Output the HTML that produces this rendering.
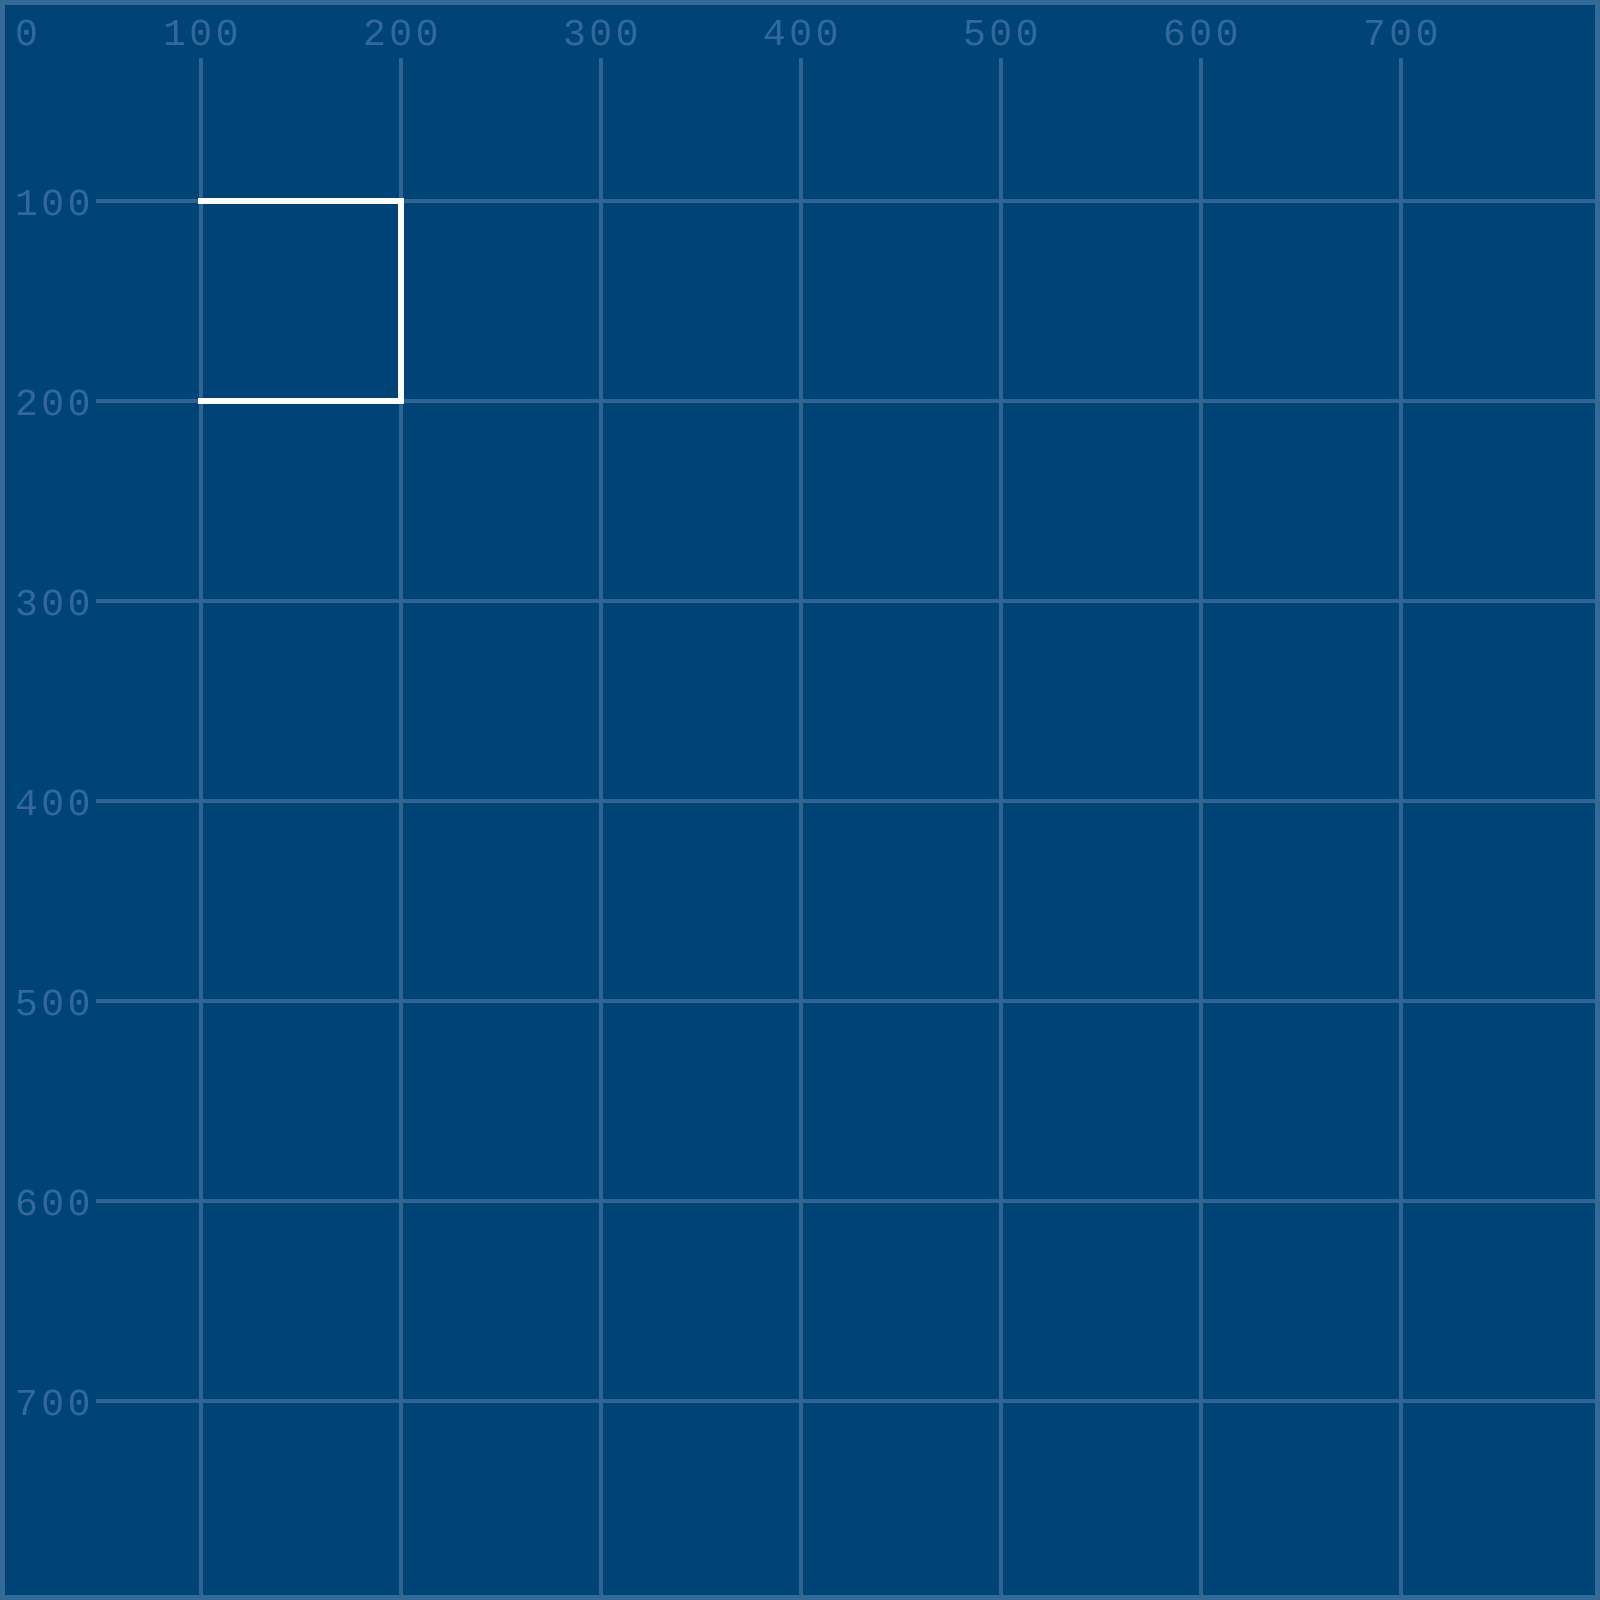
<!DOCTYPE html>
<html><head><meta charset="utf-8"><style>
html,body{margin:0;padding:0;background:#004477;}
svg{display:block}
text{font-family:"Liberation Mono",monospace;font-size:38px;letter-spacing:3.5px;fill:#32689a;}
</style></head><body>
<svg id="c" width="1600" height="1600" xmlns="http://www.w3.org/2000/svg">
<rect x="0" y="0" width="1600" height="1600" fill="#004477"/>
<g id="grid"></g>
<g id="labels"></g>
<path id="shape" fill="none" stroke="#ffffff" stroke-width="6" stroke-linecap="square"/>
<rect x="2.5" y="2.5" width="1595" height="1595" fill="none" stroke="#336a98" stroke-width="5"/>
</svg>
<script>
const xTicks = [100, 200, 300, 400, 500, 600, 700];
const yTicks = [100, 200, 300, 400, 500, 600, 700];
const tickLabels = ["0", "100", "200", "300", "400", "500", "600", "700"];
const shapeX = [100, 200, 200, 100];
const shapeY = [100, 100, 200, 200];
const NS = "http://www.w3.org/2000/svg";
function sx(v){ return 1 + 2 * v; }
function sy(v){ return 1 + 2 * v; }
const grid = document.getElementById('grid');
const labels = document.getElementById('labels');
xTicks.forEach(v => {
  const l = document.createElementNS(NS, 'line');
  l.setAttribute('x1', sx(v)); l.setAttribute('x2', sx(v));
  l.setAttribute('y1', 58); l.setAttribute('y2', 1600);
  l.setAttribute('stroke', '#2f6593'); l.setAttribute('stroke-width', 4);
  
  
  grid.appendChild(l);
});
yTicks.forEach(v => {
  const l = document.createElementNS(NS, 'line');
  l.setAttribute('y1', sy(v)); l.setAttribute('y2', sy(v));
  l.setAttribute('x1', 96); l.setAttribute('x2', 1600);
  l.setAttribute('stroke', '#2f6593'); l.setAttribute('stroke-width', 4);
  
  
  grid.appendChild(l);
});
tickLabels.forEach((s, i) => {
  const v = i * 100;
  const t = document.createElementNS(NS, 'text');
  t.setAttribute('x', i === 0 ? 15 : sx(v) - 38);
  t.setAttribute('y', 45);
  t.textContent = s;
  
  
  labels.appendChild(t);
});
tickLabels.forEach((s, i) => {
  if (i === 0) return;
  const v = i * 100;
  const t = document.createElementNS(NS, 'text');
  t.setAttribute('x', 15);
  t.setAttribute('y', sy(v) + 14);
  t.textContent = s;
  
  
  labels.appendChild(t);
});
let d = '';
shapeX.forEach((v, i) => { d += (i ? 'L' : 'M') + sx(v) + ' ' + sy(shapeY[i]) + ' '; });
document.getElementById('shape').setAttribute('d', d);
</script>
</body></html>
